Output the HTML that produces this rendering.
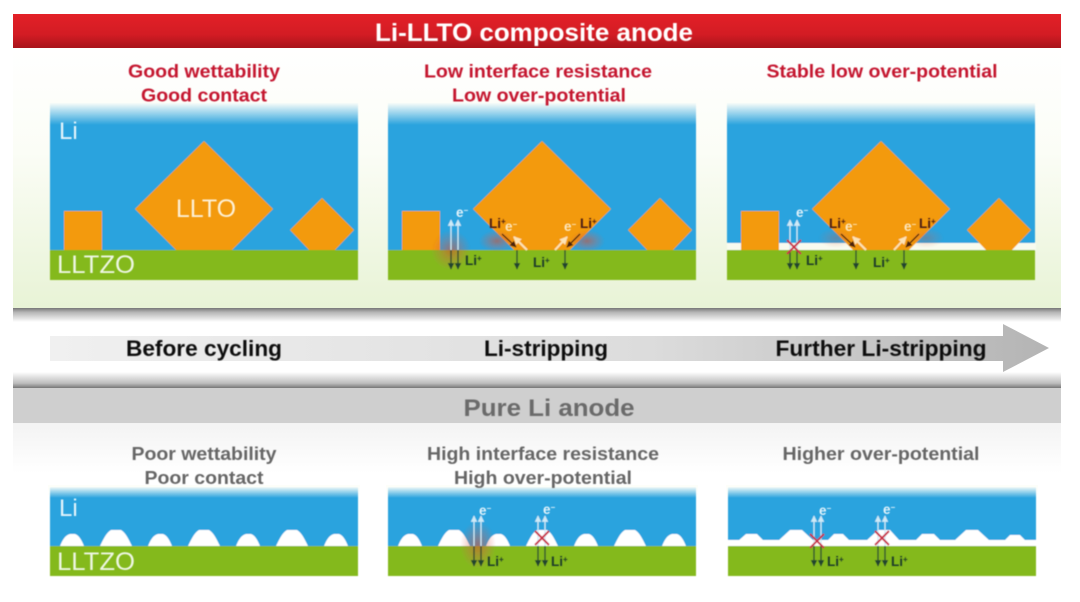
<!DOCTYPE html>
<html><head><meta charset="utf-8"><style>
html,body{margin:0;padding:0;background:#fff;width:1080px;height:602px;overflow:hidden}
svg{display:block}
text{font-family:"Liberation Sans",sans-serif}
.h{font-weight:bold;text-anchor:middle}
.r{font-size:18px;fill:#c4122f}
.g{font-size:18px;fill:#666}
.s{font-size:22px;fill:#111}
.b{font-size:13.5px;font-weight:bold;fill:#1d3b2a}
.e{font-size:13.5px;font-weight:bold;fill:#e3f3fb}
.y{font-size:13.5px;font-weight:bold;fill:#fde6bd}
.d{font-size:13.5px;font-weight:bold;fill:#4a1d12}
.lab{fill:#eef7e4;font-size:25px}
</style></head><body>
<svg width="1080" height="602" viewBox="0 0 1080 602" xmlns="http://www.w3.org/2000/svg">
<defs>
<linearGradient id="red" x1="0" y1="0" x2="0" y2="1"><stop offset="0" stop-color="#e32027"/><stop offset=".6" stop-color="#d31c24"/><stop offset="1" stop-color="#a8141b"/></linearGradient>
<linearGradient id="gr" x1="0" y1="0" x2="0" y2="1"><stop offset="0" stop-color="#fff"/><stop offset=".4" stop-color="#fbfdf6"/><stop offset="1" stop-color="#e8f3d6"/></linearGradient>
<linearGradient id="sh1" x1="0" y1="0" x2="0" y2="1"><stop offset="0" stop-color="#777"/><stop offset=".3" stop-color="#b5b5b5"/><stop offset="1" stop-color="#fff"/></linearGradient>
<linearGradient id="sh2" x1="0" y1="0" x2="0" y2="1"><stop offset="0" stop-color="#fff"/><stop offset=".7" stop-color="#bdbdbd"/><stop offset="1" stop-color="#777"/></linearGradient>
<linearGradient id="arw" gradientUnits="userSpaceOnUse" x1="50" y1="0" x2="1049" y2="0"><stop offset="0" stop-color="#f0f0f0"/><stop offset=".6" stop-color="#dcdcdc"/><stop offset="1" stop-color="#b4b4b4"/></linearGradient>
<linearGradient id="bot" x1="0" y1="0" x2="0" y2="1"><stop offset="0" stop-color="#f3f3f3"/><stop offset="1" stop-color="#fff"/></linearGradient>
<linearGradient id="wf" x1="0" y1="0" x2="0" y2="1"><stop offset="0" stop-color="#fdfef9"/><stop offset=".1" stop-color="#fdfef9"/><stop offset="1" stop-color="#fdfef9" stop-opacity="0"/></linearGradient>
<radialGradient id="glow"><stop offset="0" stop-color="#d8502f" stop-opacity=".6"/><stop offset=".55" stop-color="#d8604f" stop-opacity=".28"/><stop offset="1" stop-color="#d8604f" stop-opacity="0"/></radialGradient>
<marker id="mE" markerWidth="6" markerHeight="6" refX="4.5" refY="2.5" orient="auto"><path d="M0 0L5 2.5L0 5z" fill="#cfeaf7"/></marker>
<marker id="mD" markerWidth="6" markerHeight="6" refX="4.5" refY="2.5" orient="auto"><path d="M0 0L5 2.5L0 5z" fill="#24452f"/></marker>
<marker id="mB" markerWidth="6" markerHeight="6" refX="4.5" refY="2.5" orient="auto"><path d="M0 0L5 2.5L0 5z" fill="#4a2010"/></marker>
<marker id="mY" markerWidth="5" markerHeight="5" refX="3.5" refY="2" orient="auto"><path d="M0 0L4 2L0 4z" fill="#fde3b5"/></marker>
<filter id="bl" x="-5%" y="-5%" width="110%" height="110%"><feGaussianBlur stdDeviation="0.45"/></filter>

<g id="topBase">
<rect x="0" y="0" width="308" height="178" fill="#29a3de"/>
<rect x="0" y="148" width="308" height="30" fill="#84b91e"/>
</g>
<g id="shapes" fill="#f39a0b">
<rect x="14" y="109" width="38" height="39"/>
<path d="M154 39L223 107L182 148H126L85 107Z"/>
<path d="M272 96L304 128L285 148H259L240 128Z"/>
</g>
<g id="midArrows" fill="none" stroke-width="1.3">
<line x1="13" y1="148" x2="13" y2="118" stroke="#cfeaf7" marker-end="url(#mE)"/>
<line x1="20" y1="148" x2="20" y2="118" stroke="#cfeaf7" marker-end="url(#mE)"/>
<line x1="13" y1="148" x2="13" y2="167" stroke="#24452f" marker-end="url(#mD)"/>
<line x1="20" y1="148" x2="20" y2="167" stroke="#24452f" marker-end="url(#mD)"/>
<line x1="79" y1="148" x2="79" y2="167" stroke="#24452f" marker-end="url(#mD)"/>
<line x1="127" y1="148" x2="127" y2="167" stroke="#24452f" marker-end="url(#mD)"/>
<line x1="64" y1="132" x2="78" y2="145" stroke="#4a2010" marker-end="url(#mB)"/>
<line x1="142" y1="132" x2="129" y2="145" stroke="#4a2010" marker-end="url(#mB)"/>
<line x1="89" y1="148" x2="76" y2="135" stroke="#fde3b5" stroke-width="2" marker-end="url(#mY)"/>
<line x1="117" y1="148" x2="129" y2="135" stroke="#fde3b5" stroke-width="2" marker-end="url(#mY)"/>
</g>
<path id="bs" d="M0 12C2 7 5 1 10 0H15C19 1 22 7 24 12Z" fill="#fff"/>
<path id="bl2" d="M0 16C3 10 6 3 11 0H21C26 3 29 10 32 16Z" fill="#fff"/>
<g id="bumps">
<use href="#bs" x="10" y="47"/>
<use href="#bl2" x="50" y="43"/>
<use href="#bs" x="98" y="47"/>
<use href="#bl2" x="138" y="43"/>
<use href="#bs" x="186" y="47"/>
<use href="#bl2" x="226" y="43"/>
<use href="#bs" x="274" y="47"/>
</g>
<g id="xm" fill="none" stroke="#c9334a" stroke-width="2"><path d="M-7 -7L7 7M7 -7L-7 7"/></g>
<g id="vA" fill="none" stroke-width="1.3">
<line x1="0" y1="0" x2="0" y2="-30" stroke="#cfeaf7" marker-end="url(#mE)"/>
<line x1="7" y1="0" x2="7" y2="-30" stroke="#cfeaf7" marker-end="url(#mE)"/>
<line x1="0" y1="0" x2="0" y2="20" stroke="#24452f" marker-end="url(#mD)"/>
<line x1="7" y1="0" x2="7" y2="20" stroke="#24452f" marker-end="url(#mD)"/>
</g>
</defs>

<rect width="1080" height="602" fill="#fff"/>
<rect x="13" y="48" width="1048" height="260" fill="url(#gr)"/>
<rect x="13" y="14" width="1048" height="34" fill="url(#red)"/>
<rect x="13" y="308" width="1048" height="14" fill="url(#sh1)"/>
<rect x="13" y="372" width="1048" height="16" fill="url(#sh2)"/>
<rect x="13" y="388" width="1048" height="35" fill="#cfcfcf"/>
<rect x="13" y="423" width="1048" height="50" fill="url(#bot)"/>
<path d="M50 336H1003V324L1049 348L1003 372V361H50Z" fill="url(#arw)"/>

<g filter="url(#bl)">
<use href="#topBase" x="50" y="102"/><use href="#shapes" x="50" y="102"/>
<use href="#topBase" x="388" y="102"/>
<use href="#shapes" x="388" y="102"/>
<ellipse cx="451" cy="250" rx="20" ry="20" fill="url(#glow)"/>
<ellipse cx="497" cy="241" rx="18" ry="11" fill="url(#glow)"/>
<ellipse cx="587" cy="241" rx="18" ry="11" fill="url(#glow)"/>
<use href="#midArrows" x="438" y="102"/>

<use href="#topBase" x="727" y="102"/>
<rect x="727" y="243" width="309" height="7" fill="#f8fbef"/>
<use href="#shapes" x="727" y="102"/>
<ellipse cx="836" cy="238" rx="18" ry="10" fill="url(#glow)" opacity=".5"/>
<ellipse cx="926" cy="238" rx="18" ry="10" fill="url(#glow)" opacity=".5"/>
<use href="#midArrows" x="777" y="102"/>
<use href="#xm" x="794" y="247"/>

<rect x="50" y="487" width="308" height="89" fill="#29a3de"/>
<rect x="50" y="546" width="308" height="30" fill="#84b91e"/>
<use href="#bumps" x="50" y="487"/>

<rect x="388" y="487" width="308" height="89" fill="#29a3de"/>
<rect x="388" y="546" width="308" height="30" fill="#84b91e"/>
<use href="#bumps" x="388" y="487"/>
<ellipse cx="478" cy="545" rx="18" ry="24" fill="url(#glow)"/>
<use href="#vA" x="474" y="546"/>
<use href="#vA" x="538" y="546"/>
<use href="#xm" x="542" y="538"/>

<rect x="728" y="487" width="308" height="89" fill="#29a3de"/>
<rect x="728" y="540" width="308" height="6" fill="#fff"/>
<rect x="728" y="546" width="308" height="30" fill="#84b91e"/>
<path d="M738 541L746 534H757L764 541ZM778 541L790 530H802L814 541ZM827 541L834 534H843L850 541ZM866 541L878 530H890L900 541ZM915 541L922 534H934L941 541ZM954 541L966 530H978L990 541ZM1004 541L1010 535H1020L1026 541Z" fill="#fff"/>
<use href="#vA" x="814" y="546"/>
<use href="#vA" x="878" y="546"/>
<use href="#xm" x="817" y="541"/>
<use href="#xm" x="882" y="538"/>
</g>

<rect x="48" y="100" width="312" height="25" fill="url(#wf)"/>
<rect x="386" y="100" width="312" height="25" fill="url(#wf)"/>
<rect x="725" y="100" width="313" height="25" fill="url(#wf)"/>
<rect x="48" y="485" width="312" height="13" fill="url(#wf)"/>
<rect x="386" y="485" width="312" height="13" fill="url(#wf)"/>
<rect x="726" y="485" width="312" height="13" fill="url(#wf)"/>

<g filter="url(#bl)">
<text class="h" x="534" y="41" font-size="25" fill="#fff" textLength="318" lengthAdjust="spacingAndGlyphs">Li-LLTO composite anode</text>
<text class="h r" x="204" y="77.5" textLength="152" lengthAdjust="spacingAndGlyphs">Good wettability</text>
<text class="h r" x="204" y="101.5" textLength="126" lengthAdjust="spacingAndGlyphs">Good contact</text>
<text class="h r" x="538" y="77.5" textLength="228" lengthAdjust="spacingAndGlyphs">Low interface resistance</text>
<text class="h r" x="539" y="101.5" textLength="174" lengthAdjust="spacingAndGlyphs">Low over-potential</text>
<text class="h r" x="882" y="77.5" textLength="231" lengthAdjust="spacingAndGlyphs">Stable low over-potential</text>

<text class="h s" x="204" y="356" textLength="156" lengthAdjust="spacingAndGlyphs">Before cycling</text>
<text class="h s" x="546" y="356" textLength="124" lengthAdjust="spacingAndGlyphs">Li-stripping</text>
<text class="h s" x="881" y="356" textLength="211" lengthAdjust="spacingAndGlyphs">Further Li-stripping</text>
<text class="h" x="549" y="416" font-size="24" fill="#6a6a6a" textLength="171" lengthAdjust="spacingAndGlyphs">Pure Li anode</text>

<text class="h g" x="204" y="460" textLength="145" lengthAdjust="spacingAndGlyphs">Poor wettability</text>
<text class="h g" x="204" y="484" textLength="119" lengthAdjust="spacingAndGlyphs">Poor contact</text>
<text class="h g" x="543" y="460" textLength="232" lengthAdjust="spacingAndGlyphs">High interface resistance</text>
<text class="h g" x="543" y="484" textLength="178" lengthAdjust="spacingAndGlyphs">High over-potential</text>
<text class="h g" x="881" y="460" textLength="197" lengthAdjust="spacingAndGlyphs">Higher over-potential</text>

<text x="59" y="139" font-size="24" fill="#e6f5fc">Li</text>
<text x="206" y="217" font-size="25" fill="#fdf0d5" text-anchor="middle">LLTO</text>
<text class="lab" x="57" y="273" textLength="78" lengthAdjust="spacingAndGlyphs">LLTZO</text>
<text x="59" y="516" font-size="24" fill="#e6f5fc">Li</text>
<text class="lab" x="57" y="570" textLength="78" lengthAdjust="spacingAndGlyphs">LLTZO</text>

<text class="e" x="456" y="217">e<tspan font-size="8" dy="-4">−</tspan></text>
<text class="b" x="465" y="265">Li<tspan font-size="8" dy="-4">+</tspan></text>
<text class="d" x="489" y="228">Li<tspan font-size="8" dy="-4">+</tspan></text>
<text class="y" x="505" y="231">e<tspan font-size="8" dy="-4">−</tspan></text>
<text class="b" x="533" y="267">Li<tspan font-size="8" dy="-4">+</tspan></text>
<text class="y" x="564" y="231">e<tspan font-size="8" dy="-4">−</tspan></text>
<text class="d" x="580" y="228">Li<tspan font-size="8" dy="-4">+</tspan></text>

<text class="e" x="796" y="217">e<tspan font-size="8" dy="-4">−</tspan></text>
<text class="b" x="806" y="265">Li<tspan font-size="8" dy="-4">+</tspan></text>
<text class="d" x="829" y="228">Li<tspan font-size="8" dy="-4">+</tspan></text>
<text class="y" x="845" y="231">e<tspan font-size="8" dy="-4">−</tspan></text>
<text class="b" x="873" y="267">Li<tspan font-size="8" dy="-4">+</tspan></text>
<text class="y" x="904" y="231">e<tspan font-size="8" dy="-4">−</tspan></text>
<text class="d" x="919" y="228">Li<tspan font-size="8" dy="-4">+</tspan></text>

<text class="e" x="479" y="515">e<tspan font-size="8" dy="-4">−</tspan></text>
<text class="b" x="487" y="566">Li<tspan font-size="8" dy="-4">+</tspan></text>
<text class="e" x="543" y="514">e<tspan font-size="8" dy="-4">−</tspan></text>
<text class="b" x="551" y="566">Li<tspan font-size="8" dy="-4">+</tspan></text>

<text class="e" x="819" y="515">e<tspan font-size="8" dy="-4">−</tspan></text>
<text class="b" x="827" y="566">Li<tspan font-size="8" dy="-4">+</tspan></text>
<text class="e" x="883" y="514">e<tspan font-size="8" dy="-4">−</tspan></text>
<text class="b" x="891" y="566">Li<tspan font-size="8" dy="-4">+</tspan></text>
</g>
</svg>
</body></html>
